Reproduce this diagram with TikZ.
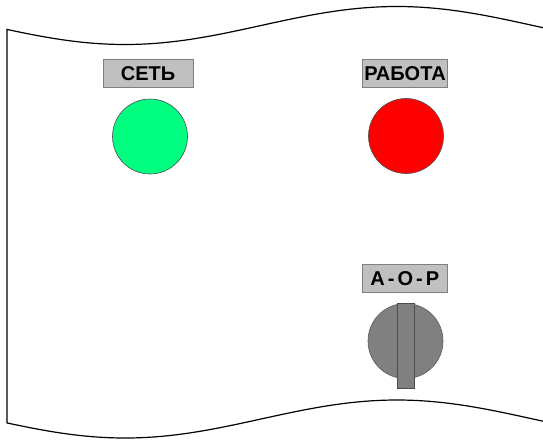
\documentclass[tikz,border=0pt]{standalone}
\usepackage{fontspec}
\setmainfont{Liberation Sans}
\definecolor{lampgreen}{RGB}{0,255,128}
\definecolor{lampred}{RGB}{255,0,0}
\definecolor{labelfill}{RGB}{192,192,192}
\definecolor{labeledge}{RGB}{128,128,128}
\definecolor{knobgray}{RGB}{128,128,128}
\begin{document}
\begin{tikzpicture}[x=1pt,y=-1pt,
  labelbox/.style={draw=labeledge,fill=labelfill,line width=0.8pt,inner sep=0pt,
    minimum width=#1,minimum height=28.5pt,font=\fontsize{20}{20}\selectfont\bfseries},
  lamp/.style={circle,draw=black!70,line width=0.6pt,minimum size=75pt,inner sep=0pt},
  knob/.style={circle,draw=black!65,fill=knobgray,line width=0.6pt,minimum size=75pt,inner sep=0pt},
  knobbar/.style={draw=black!70,fill=knobgray,line width=0.6pt,inner sep=0pt,minimum width=17pt,minimum height=85pt}]
\useasboundingbox (0,0) rectangle (543,440);
% panel outline
\draw[line width=1.2pt,line join=miter]
  plot[domain=543:7,samples=150] (\x,{25.5+19*sin((\x+11)*0.66176)})
  -- plot[domain=7:543,samples=150] (\x,{419+19*sin((\x+11)*0.66176)});
% labels
\node[labelbox=90pt] (lblnet) at (148,73.5) {СЕТЬ};
\node[labelbox=85pt] (lblwork) at (405,73.2) {РАБОТА};
\node[labelbox=85.5pt] (lblaop) at (404.8,278.2) {А\hspace{3pt}-\hspace{3pt}О\hspace{3pt}-\hspace{3pt}Р};
% lamps
\node[lamp,fill=lampgreen] (lampnet) at (150,136.5) {};
\node[lamp,fill=lampred] (lampwork) at (406,136) {};
% switch
\node[knob] (knob) at (405.5,341) {};
\node[knobbar] (bar) at (405.4,345.6) {};
\end{tikzpicture}
\end{document}
